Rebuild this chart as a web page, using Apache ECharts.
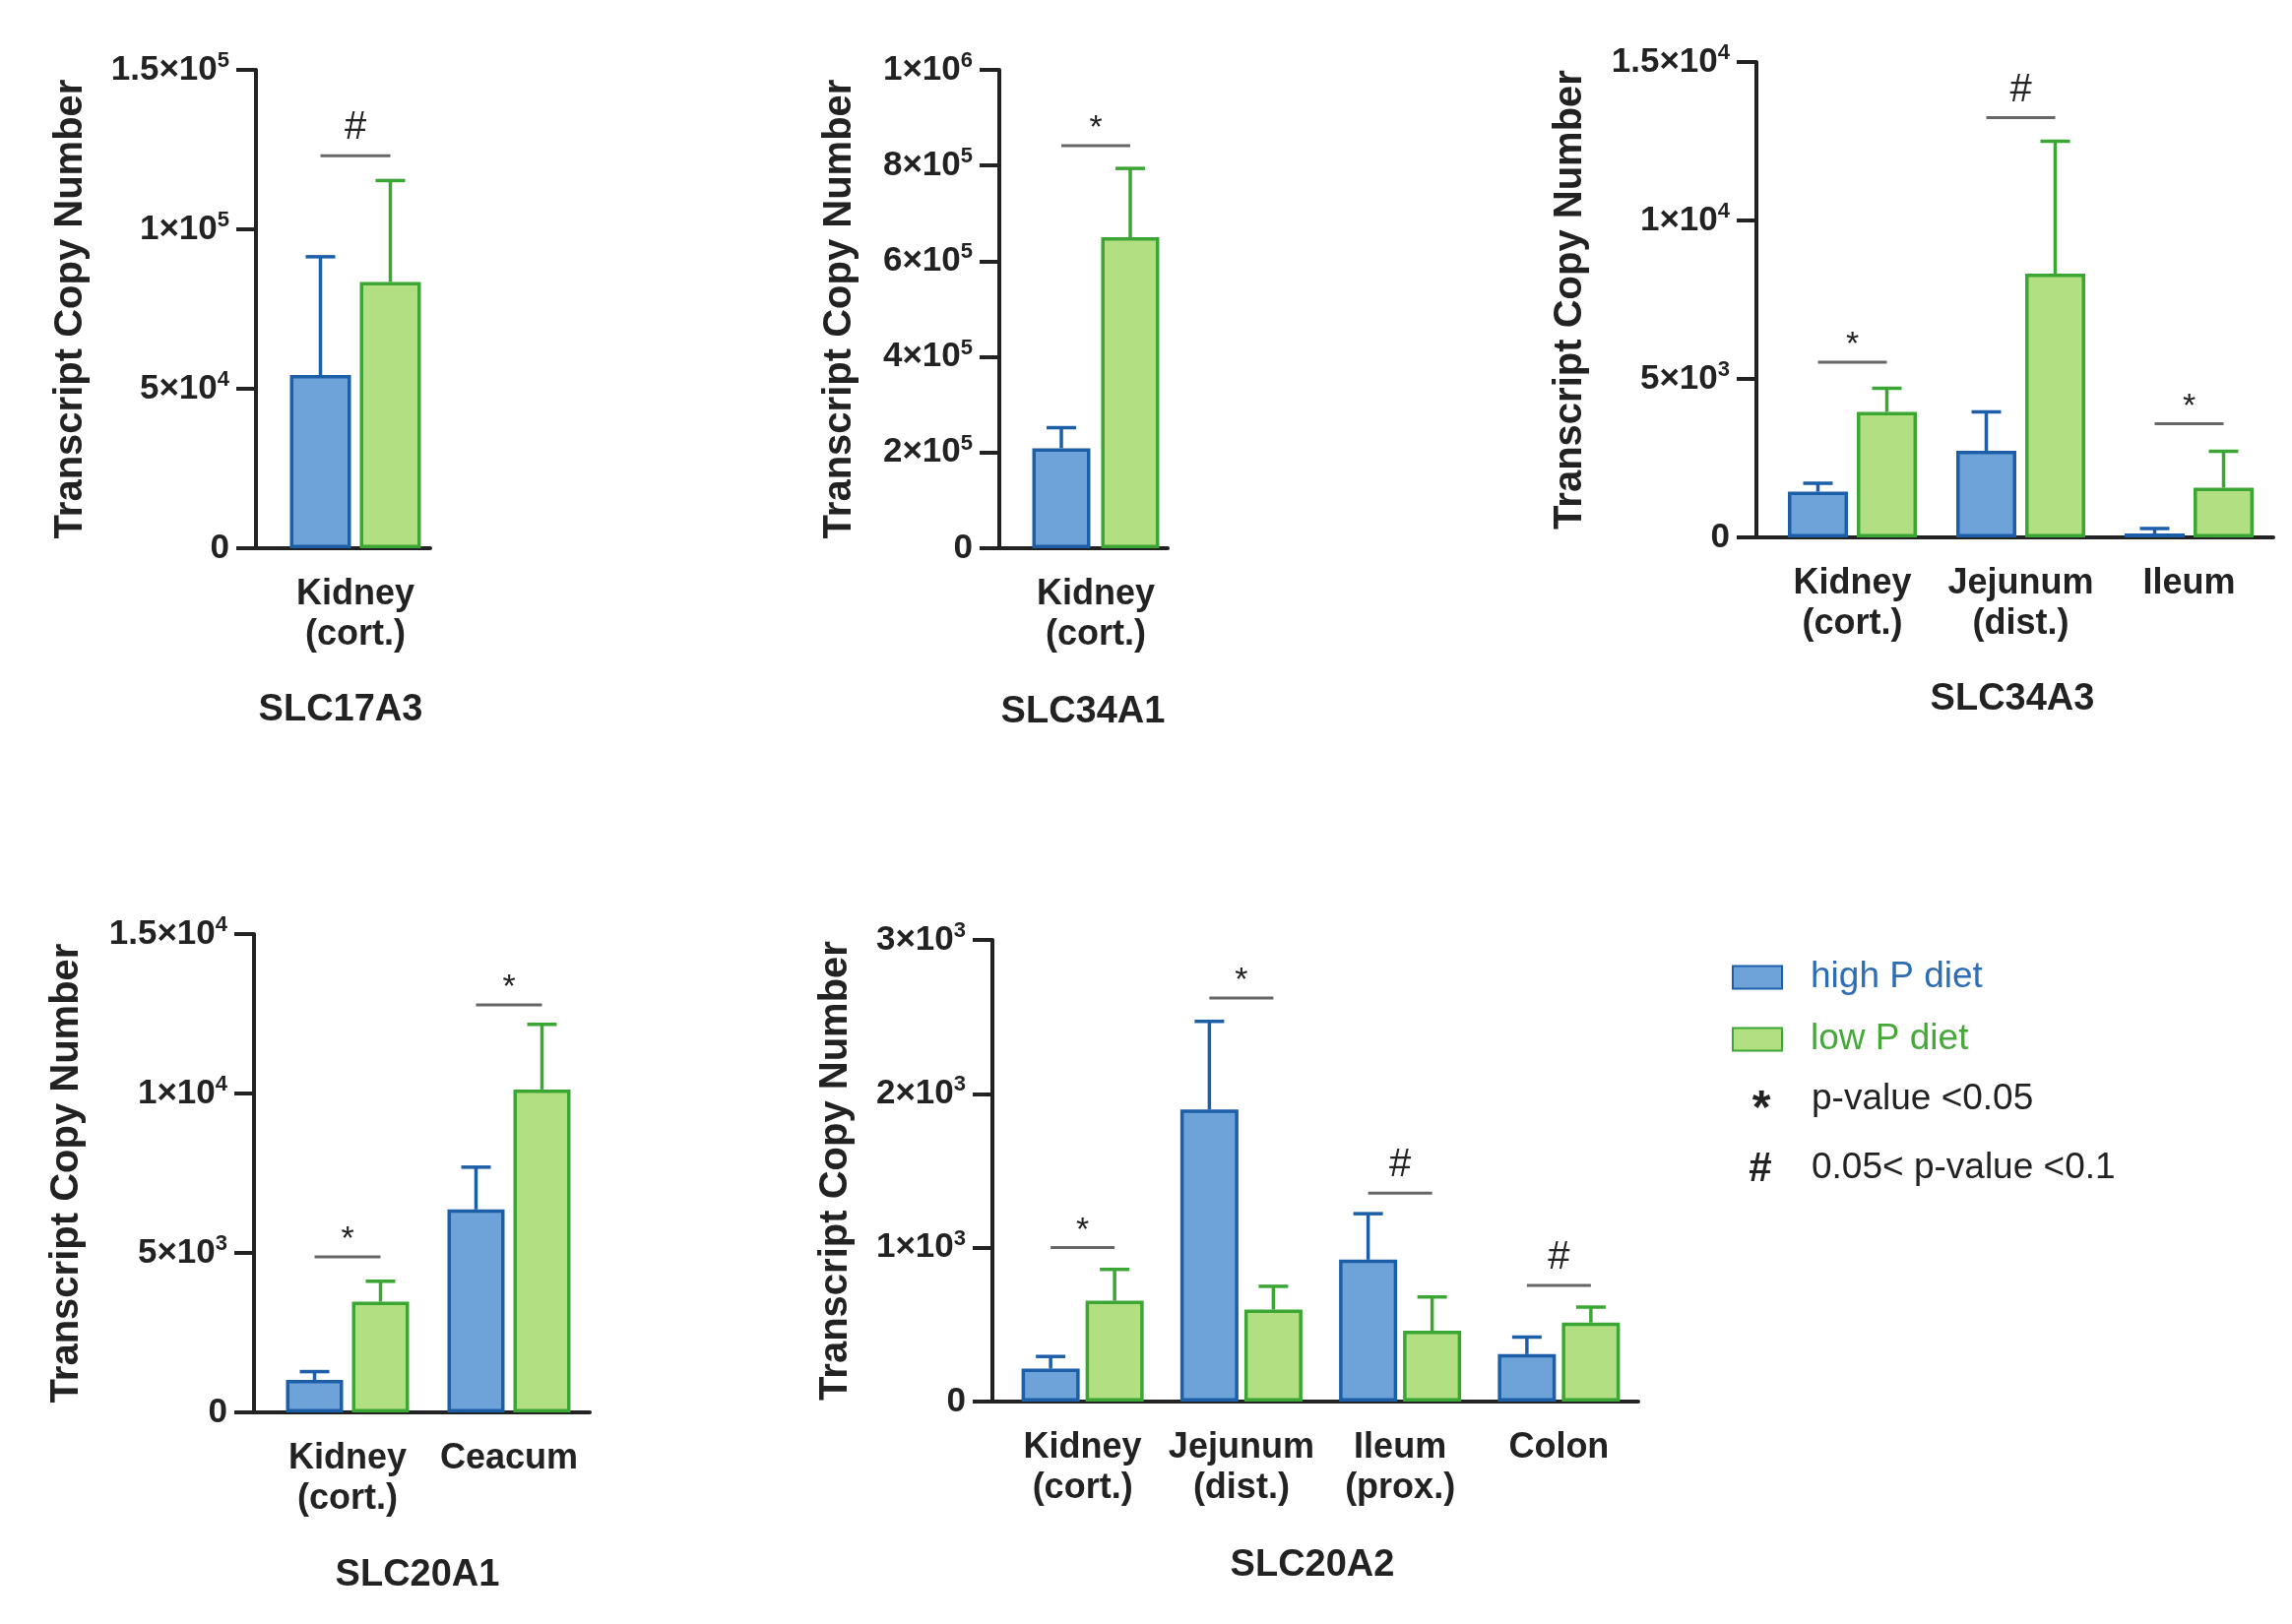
<!DOCTYPE html>
<html>
<head>
<meta charset="utf-8">
<script src="https://cdn.jsdelivr.net/npm/echarts@6/dist/echarts.min.js"></script>
<style>
    html, body { margin: 0; padding: 0; background: #fff; }
    #main { width: 2328px; height: 1650px; }
</style>
</head>
<body>
<div id="main"></div>
<script>
// SLC17A3
var cats1 = ['Kidney\n(cort.)'];
var high1 = [54300], highSd1 = [37100];
var low1 = [83500], lowSd1 = [31800];
var sig1 = [[0, 123100, '#']];
var ticks1 = ['0', '5×10{s|4}', '1×10{s|5}', '1.5×10{s|5}'];

// SLC34A1
var cats2 = ['Kidney\n(cort.)'];
var high2 = [209000], highSd2 = [43000];
var low2 = [650000], lowSd2 = [144000];
var sig2 = [[0, 841600, '*']];
var ticks2 = ['0', '2×10{s|5}', '4×10{s|5}', '6×10{s|5}', '8×10{s|5}', '1×10{s|6}'];

// SLC34A3
var cats3 = ['Kidney\n(cort.)', 'Jejunum\n(dist.)', 'Ileum'];
var high3 = [1444, 2733, 124], highSd3 = [264, 1227, 156];
var low3 = [3960, 8323, 1568], lowSd3 = [745, 4177, 1149];
var sig3 = [[0, 5528, '*'], [1, 13245, '#'], [2, 3587, '*']];
var ticks3 = ['0', '5×10{s|3}', '1×10{s|4}', '1.5×10{s|4}'];

// SLC20A1
var cats4 = ['Kidney\n(cort.)', 'Ceacum'];
var high4 = [1020, 6365], highSd4 = [259, 1325];
var low4 = [3472, 10127], lowSd4 = [640, 2041];
var sig4 = [[0, 4877, '*'], [1, 12778, '*']];
var ticks4 = ['0', '5×10{s|3}', '1×10{s|4}', '1.5×10{s|4}'];

// SLC20A2
var cats5 = ['Kidney\n(cort.)', 'Jejunum\n(dist.)', 'Ileum\n(prox.)', 'Colon'];
var high5 = [214, 1898, 922, 308], highSd5 = [79, 573, 299, 111];
var low5 = [655, 598, 460, 513], lowSd5 = [204, 151, 220, 101];
var sig5 = [[0, 1001, '*'], [1, 2622, '*'], [2, 1354, '#'], [3, 755, '#']];
var ticks5 = ['0', '1×10{s|3}', '2×10{s|3}', '3×10{s|3}'];

var FONT = 'Liberation Sans, Arial, sans-serif';
var BLUE = '#6ea3d9', BLUE_LINE = '#1c5ea8';
var GREEN = '#b1df82', GREEN_LINE = '#3ca634';
var INK = '#222';

var panels = [
    { cats: cats1, high: high1, highSd: highSd1, low: low1, lowSd: lowSd1, sig: sig1, ticks: ticks1, max: 150000, step: 50000,
      title: 'SLC17A3', grid: { left: 285, top: 71, width: 152, height: 486 }, yOff: 25, barW: 62, gap: 9, nameGap: 168, tx: 346, ty: 722 },
    { cats: cats2, high: high2, highSd: highSd2, low: low2, lowSd: lowSd2, sig: sig2, ticks: ticks2, max: 1000000, step: 200000,
      title: 'SLC34A1', grid: { left: 1040, top: 71, width: 146, height: 486 }, yOff: 25, barW: 59, gap: 11, nameGap: 142, tx: 1100, ty: 724 },
    { cats: cats3, high: high3, highSd: highSd3, low: low3, lowSd: lowSd3, sig: sig3, ticks: ticks3, max: 15000, step: 5000,
      title: 'SLC34A3', grid: { left: 1796, top: 63, width: 513, height: 483 }, yOff: 12, barW: 61, gap: 9, nameGap: 169, tx: 2044, ty: 711 },
    { cats: cats4, high: high4, highSd: highSd4, low: low4, lowSd: lowSd4, sig: sig4, ticks: ticks4, max: 15000, step: 5000,
      title: 'SLC20A1', grid: { left: 271, top: 949, width: 328, height: 486 }, yOff: 13, barW: 58, gap: 9, nameGap: 170, tx: 424, ty: 1601 },
    { cats: cats5, high: high5, highSd: highSd5, low: low5, lowSd: lowSd5, sig: sig5, ticks: ticks5, max: 3000, step: 1000,
      title: 'SLC20A2', grid: { left: 1019, top: 955, width: 645, height: 469 }, yOff: 11, barW: 59, gap: 6, nameGap: 139, tx: 1333, ty: 1591 }
];

//误差线
function errRender(shift, color) {
    return function (params, api) {
        var i = api.value(0), m = api.value(1), sd = api.value(2);
        var p0 = api.coord([i, m]);
        var p1 = api.coord([i, m + sd]);
        var x = p0[0] + shift;
        var st = { stroke: color, lineWidth: 3.5 };
        return {
            type: 'group',
            children: [
                { type: 'line', shape: { x1: x, y1: p0[1], x2: x, y2: p1[1] }, style: st },
                { type: 'line', shape: { x1: x - 15, y1: p1[1], x2: x + 15, y2: p1[1] }, style: st }
            ]
        };
    };
}

//显著性标记
function sigRender(sig, half) {
    return function (params, api) {
        var p = api.coord([api.value(0), api.value(1)]);
        var sym = sig[params.dataIndex][2];
        var star = sym === '*';
        return {
            type: 'group',
            children: [
                { type: 'line', shape: { x1: p[0] - half, y1: p[1], x2: p[0] + half, y2: p[1] },
                  style: { stroke: '#666', lineWidth: 3 } },
                { type: 'text', style: { text: sym, x: p[0], y: p[1] - (star ? 17 : 28),
                  textAlign: 'center', textVerticalAlign: 'middle',
                  font: (star ? '34px ' : '40px ') + FONT, fill: INK } }
            ]
        };
    };
}

var grids = [], xAxes = [], yAxes = [], series = [], graphics = [];

panels.forEach(function (p, k) {
    grids.push(p.grid);
    xAxes.push({
        gridIndex: k, type: 'category', data: p.cats,
        axisLine: { lineStyle: { color: INK, width: 4 } },
        axisTick: { alignWithLabel: true, interval: 0, length: 18, lineStyle: { color: INK, width: 4 } },
        axisLabel: { interval: 0, margin: 27, fontSize: 36, fontWeight: 'bold', lineHeight: 41, color: INK, fontFamily: FONT }
    });
    yAxes.push({
        gridIndex: k, type: 'value', position: 'left', min: 0, max: p.max, interval: p.step, offset: p.yOff,
        axisLine: { show: true, lineStyle: { color: INK, width: 4 } },
        axisTick: { show: true, length: 20, lineStyle: { color: INK, width: 4 } },
        splitLine: { show: false },
        axisLabel: {
            margin: 27, color: INK, fontSize: 35, fontWeight: 'bold', fontFamily: FONT, lineHeight: 40,
            formatter: (function (t, s) { return function (v) { return t[Math.round(v / s)]; }; })(p.ticks, p.step),
            rich: { s: { fontSize: 22, fontWeight: 'bold', fontFamily: FONT, color: INK, verticalAlign: 'top', lineHeight: 22 } }
        },
        name: 'Transcript Copy Number', nameLocation: 'middle', nameGap: p.nameGap, nameRotate: 90,
        nameTextStyle: { fontSize: 40, fontWeight: 'bold', color: INK, fontFamily: FONT }
    });
    // 补齐 y 轴与 x 轴之间的底线
    yAxes.push({
        gridIndex: k, type: 'value', position: 'left', min: 0, max: p.max, interval: p.step,
        axisLine: { show: false }, axisLabel: { show: false }, splitLine: { show: false },
        axisTick: { show: true, customValues: [0], length: p.yOff + 2, lineStyle: { color: INK, width: 4 } }
    });

    var shift = (p.barW + p.gap) / 2;
    var gapPct = (p.gap / p.barW * 100).toFixed(1) + '%';
    series.push({
        type: 'bar', name: 'high P diet', xAxisIndex: k, yAxisIndex: 2 * k, data: p.high,
        barWidth: p.barW, barGap: gapPct,
        itemStyle: { color: BLUE, borderColor: BLUE_LINE, borderWidth: 3.5 }
    });
    series.push({
        type: 'bar', name: 'low P diet', xAxisIndex: k, yAxisIndex: 2 * k, data: p.low,
        barWidth: p.barW, barGap: gapPct,
        itemStyle: { color: GREEN, borderColor: GREEN_LINE, borderWidth: 3.5 }
    });
    series.push({
        type: 'custom', xAxisIndex: k, yAxisIndex: 2 * k, z: 3,
        data: p.high.map(function (v, i) { return [i, v, p.highSd[i]]; }),
        renderItem: errRender(-shift, BLUE_LINE)
    });
    series.push({
        type: 'custom', xAxisIndex: k, yAxisIndex: 2 * k, z: 3,
        data: p.low.map(function (v, i) { return [i, v, p.lowSd[i]]; }),
        renderItem: errRender(shift, GREEN_LINE)
    });
    series.push({
        type: 'custom', xAxisIndex: k, yAxisIndex: 2 * k, z: 3,
        data: p.sig.map(function (s) { return [s[0], s[1]]; }),
        renderItem: sigRender(p.sig, shift)
    });
    graphics.push({
        type: 'text', x: p.tx, y: p.ty,
        style: { text: p.title, font: 'bold 38px ' + FONT, fill: INK, textAlign: 'center', textVerticalAlign: 'middle' }
    });
});

graphics.push(
    { type: 'text', x: 1789, y: 1128, style: { text: '*', font: 'bold 48px ' + FONT, fill: INK, textAlign: 'center', textVerticalAlign: 'middle' } },
    { type: 'text', x: 1840, y: 1117, style: { text: 'p-value <0.05', font: '37px ' + FONT, fill: INK, textAlign: 'left', textVerticalAlign: 'middle' } },
    { type: 'text', x: 1788, y: 1188, style: { text: '#', font: 'bold 42px ' + FONT, fill: INK, textAlign: 'center', textVerticalAlign: 'middle' } },
    { type: 'text', x: 1840, y: 1187, style: { text: '0.05< p-value <0.1', font: '37px ' + FONT, fill: INK, textAlign: 'left', textVerticalAlign: 'middle' } }
);

var myChart = echarts.init(document.getElementById('main'));
myChart.setOption({
    backgroundColor: '#fff',
    animation: false,
    legend: {
        orient: 'vertical', left: 1754, top: 968, icon: 'rect',
        itemWidth: 50, itemHeight: 23, itemGap: 23,
        textStyle: { fontSize: 37, fontFamily: FONT, lineHeight: 40, padding: [0, 0, 0, 24] },
        data: [
            { name: 'high P diet', textStyle: { color: '#2e6db4' } },
            { name: 'low P diet', textStyle: { color: '#45a838' } }
        ]
    },
    grid: grids,
    xAxis: xAxes,
    yAxis: yAxes,
    series: series,
    graphic: graphics
});
</script>
</body>
</html>
